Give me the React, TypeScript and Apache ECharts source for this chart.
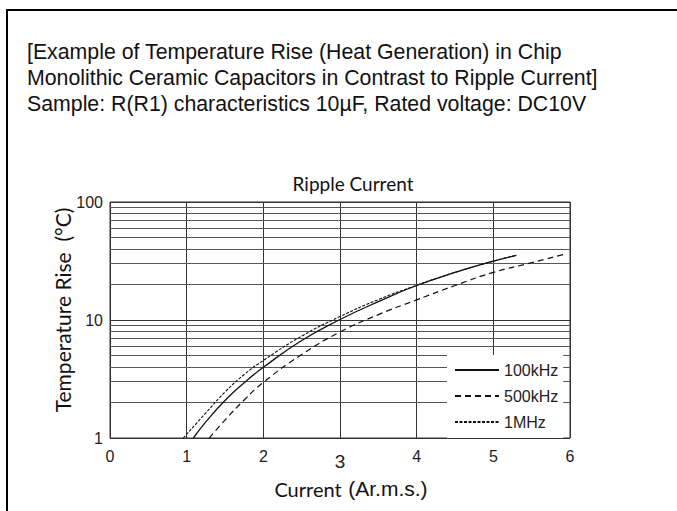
import React, { useEffect, useRef } from "react";
import * as echarts from "echarts";

const headerLines = [
  "[Example of Temperature Rise (Heat Generation) in Chip",
  "Monolithic Ceramic Capacitors in Contrast to Ripple Current]",
  "Sample: R(R1) characteristics 10\u00b5F, Rated voltage: DC10V",
];

const minorGrid = [2, 3, 4, 5, 6, 7, 8, 9, 20, 30, 40, 50, 60, 70, 80, 90];

const seriesNames = ["100kHz", "500kHz", "1MHz"];

const curve100k: [number, number][] = [
  [1.087, 1], [1.25, 1.37], [1.5, 2.08], [1.75, 2.94], [2, 3.97], [2.5, 6.7],
  [3, 10.1], [3.5, 14.3], [4, 19.6], [4.5, 25.3], [5, 31.5], [5.3, 35.3],
];
const curve500k: [number, number][] = [
  [1.295, 1], [1.5, 1.42], [1.75, 2.1], [2, 2.96], [2.5, 5.1], [3, 7.9],
  [3.5, 11.1], [4, 14.8], [4.5, 19.6], [5, 25.3], [5.5, 30.6], [5.91, 35.8],
];
const curve1M: [number, number][] = [
  [0.956, 1], [1.25, 1.63], [1.5, 2.45], [1.75, 3.45], [2, 4.54], [2.5, 7.3],
  [3, 10.7], [3.5, 14.9], [4, 19.7], [4.5, 25.3], [5, 31.5], [5.3, 35.3],
];

export default function App() {
  const ref = useRef<HTMLDivElement>(null);
  useEffect(() => {
    if (!ref.current) return;
    const chart = echarts.init(ref.current, null, { renderer: "svg" });
    const lineColor = "#111";
    const option: any = {
      animation: false,
      backgroundColor: "#fff",
      title: {
        text: "Ripple Current",
        left: 348,
        textAlign: "center",
        top: 169,
        textStyle: { fontFamily: "Lato", fontSize: 19, fontWeight: "normal", color: "#111" },
      },
      graphic: [
        {
          type: "rect",
          shape: { x: 7, y: 10, width: 720, height: 560 },
          style: { fill: "none", stroke: "#000", lineWidth: 2 },
          silent: true,
        },
        ...headerLines.map((t, i) => ({
          type: "text",
          x: 27,
          y: 52 + i * 26,
          style: {
            text: t,
            fontFamily: "Liberation Sans, Arial",
            fontSize: 21.3,
            fill: "#111",
            verticalAlign: "middle",
          },
        })),
      ],
      grid: {
        left: 110,
        top: 202,
        width: 460,
        height: 236,
        show: true,
        borderColor: "#333",
        borderWidth: 1,
      },
      legend: {
        data: seriesNames,
        orient: "vertical",
        left: 447,
        top: 355,
        backgroundColor: "#fff",
        padding: [7, 5, 8, 7],
        itemWidth: 44,
        itemHeight: 14,
        itemGap: 10,
        itemStyle: { opacity: 0, borderWidth: 0, color: "rgba(0,0,0,0)" },
        textStyle: { fontFamily: "Liberation Sans, Arial", fontSize: 16, color: "#222" },
      },
      xAxis: {
        type: "value",
        min: 0,
        max: 6,
        interval: 1,
        name: "{a|Current}  {b|(Ar.m.s.)}",
        nameLocation: "middle",
        nameGap: 40,
        nameMoveOverlap: false,
        nameTextStyle: {
          padding: [0, 0, 0, 22],
          rich: {
            a: { fontFamily: "Lato", fontSize: 20, color: "#111" },
            b: { fontFamily: "Liberation Sans, Arial", fontSize: 21, color: "#111" },
          },
        },
        axisLine: { show: false },
        axisTick: { show: false },
        axisLabel: {
          margin: 10,
          fontFamily: "Liberation Sans, Arial",
          fontSize: 16,
          color: "#222",
          formatter: (v: number) => (v === 3 ? "{big|3}" : String(v)),
          rich: { big: { fontFamily: "Liberation Sans, Arial", fontSize: 19, color: "#222", padding: [4, 0, 0, 0] } },
        },
        splitLine: { show: true, lineStyle: { color: "#333", width: 1 } },
      },
      yAxis: {
        type: "log",
        logBase: 10,
        min: 1,
        max: 100,
        name: "Temperature Rise  (\u00b0C)",
        nameLocation: "middle",
        nameGap: 37,
        nameMoveOverlap: false,
        nameTextStyle: { fontFamily: "Lato", fontSize: 21, color: "#111", padding: [0, 0, 0, 20] },
        axisLine: { show: false },
        axisTick: { show: false },
        axisLabel: {
          margin: 7,
          fontFamily: "Liberation Sans, Arial",
          fontSize: 16,
          color: "#222",
        },
        splitLine: { show: true, lineStyle: { color: "#333", width: 1 } },
      },
      series: [
        {
          name: seriesNames[0],
          type: "line",
          data: curve100k,
          smooth: true,
          symbol: "none",
          lineStyle: { color: lineColor, width: 1.3, type: "solid" },
          itemStyle: { color: lineColor },
          z: 3,
          markLine: {
            silent: true,
            symbol: "none",
            label: { show: false },
            lineStyle: { color: "#555", width: 1, type: "solid" },
            data: minorGrid.map((v) => ({ yAxis: v })),
            z: 1,
          },
        },
        {
          name: seriesNames[1],
          type: "line",
          data: curve500k,
          smooth: true,
          symbol: "none",
          lineStyle: { color: lineColor, width: 1.2, type: [6, 4] },
          itemStyle: { color: lineColor },
          z: 3,
        },
        {
          name: seriesNames[2],
          type: "line",
          data: curve1M,
          smooth: true,
          symbol: "none",
          lineStyle: { color: lineColor, width: 1.1, type: [3, 1.5] },
          itemStyle: { color: lineColor },
          z: 3,
        },
      ],
    };
    chart.setOption(option);
    return () => chart.dispose();
  }, []);
  return (
    <div
      ref={ref}
      style={{ position: "fixed", left: 0, top: 0, width: 677, height: 511 }}
    />
  );
}
